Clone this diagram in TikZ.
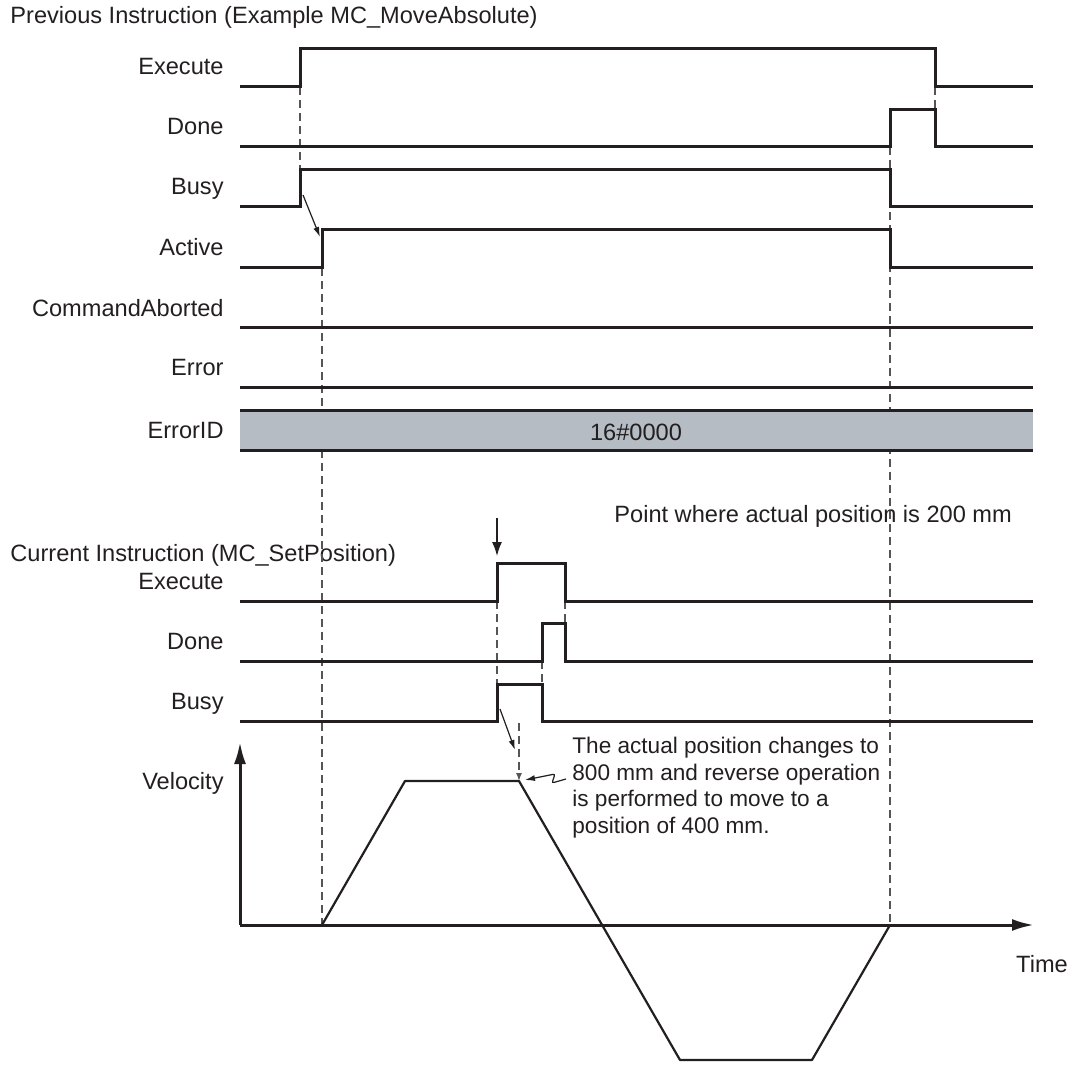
\documentclass[tikz,border=0pt]{standalone}
\usepackage{fontspec}
\setmainfont{Liberation Sans}
\usetikzlibrary{arrows.meta,positioning}
\definecolor{sigblack}{RGB}{35,31,32}
\definecolor{idgray}{RGB}{181,188,195}
\definecolor{guidegray}{RGB}{85,85,85}
\tikzset{
  sig/.style={line width=1.5pt,draw=sigblack},
  vel/.style={line width=1.1pt,draw=sigblack},
  guide/.style={line width=0.7pt,draw=guidegray,dash pattern=on 4pt off 2.5pt},
  lbl/.style={anchor=base east,inner sep=0pt,text=sigblack,font=\fontsize{11.8}{14}\selectfont},
  note/.style={anchor=base west,inner sep=0pt,text=sigblack,font=\fontsize{11.8}{14}\selectfont},
  pointer/.style={-{Latex[length=5pt,width=3pt]},line width=0.6pt,draw=sigblack},
  axis/.style={-{Latex[length=11pt,width=6pt]},line width=1.5pt,draw=sigblack}
}

\begin{document}
\begin{tikzpicture}[x=0.5pt,y=-0.5pt]
  \useasboundingbox (0,0) rectangle (1073,1070);

  % titles
  \node[note] (prevtitle) at (10,24) {Previous Instruction (Example MC\_MoveAbsolute)};
  \node[note] (curtitle) at (10,561) {Current Instruction (MC\_SetPosition)};
  \node[note] (pointtext) at (614,523) {Point where actual position is 200 mm};

  % signal names
  \foreach \y/\t [count=\i] in {75/Execute,135/Done,195/Busy,256/Active,316/CommandAborted,376/Error,438/ErrorID}
    \node[lbl] (prev\i) at (224,\y) {\t};
  \foreach \y/\t [count=\i] in {589/Execute,649/Done,709/Busy,789/Velocity}
    \node[lbl] (cur\i) at (224,\y) {\t};

  % guide lines
  \draw[guide] (300,87) -- (300,170);
  \draw[guide] (322,268) -- (322,925);
  \draw[guide] (890,147) -- (890,925);
  \draw[guide] (935,87) -- (935,110);
  \draw[guide] (497,601) -- (497,684);
  \draw[guide] (565,601) -- (565,623);
  \draw[guide] (542,661) -- (542,684);

  % previous instruction
  \draw[sig] (240,87) -- (300,87) -- (300,49) -- (935,49) -- (935,87) -- (1033,87);
  \draw[sig] (240,147) -- (890,147) -- (890,110) -- (935,110) -- (935,147) -- (1033,147);
  \draw[sig] (240,207) -- (300,207) -- (300,170) -- (890,170) -- (890,207) -- (1033,207);
  \draw[sig] (240,268) -- (322,268) -- (322,230) -- (890,230) -- (890,268) -- (1033,268);
  \foreach \y in {328,388}
    \draw[sig] (240,\y) -- (1033,\y);
  \fill[idgray] (240,411) rectangle (1033,450);
  \draw[sig] (240,411) -- (1033,411) (240,450) -- (1033,450);
  \node[anchor=base,inner sep=0pt,text=sigblack,font=\fontsize{11.8}{14}\selectfont] (errid) at (636,440) {16\#0000};

  % current instruction
  \draw[sig] (240,601) -- (497,601) -- (497,563) -- (565,563) -- (565,601) -- (1033,601);
  \draw[sig] (240,661) -- (542,661) -- (542,623) -- (565,623) -- (565,661) -- (1033,661);
  \draw[sig] (240,721) -- (497,721) -- (497,684) -- (542,684) -- (542,721) -- (1033,721);

  % pointers
  \coordinate (busyrise) at (303,195);
  \coordinate (activerise) at (320,237);
  \draw[pointer] (busyrise) -- (activerise);
  \coordinate (pointtop) at (497,518);
  \coordinate (exerise) at (497,556);
  \draw[-{Latex[length=7pt,width=5pt]},line width=0.7pt,draw=sigblack] (pointtop) -- (exerise);
  \coordinate (busyhigh) at (500,709);
  \coordinate (busytip) at (515,750);
  \draw[pointer] (busyhigh) -- (busytip);
  \coordinate (reversetop) at (519,723);
  \coordinate (reverse) at (519,781);
  \draw[guide,-{Latex[length=4pt,width=3pt]}] (reversetop) -- (reverse);
  \coordinate (noteleft) at (566,779);
  \coordinate (plateautip) at (525,780);
  \draw[pointer,rounded corners=1pt] (noteleft) -- (552,783) -- (555,774) -- (plateautip);

  % velocity
  \coordinate (origin) at (240,925);
  \coordinate (vtop) at (240,742);
  \coordinate (tend) at (1034,925);
  \draw[axis] (origin) -- (vtop);
  \draw[axis] (origin) -- (tend);
  \node[anchor=base,inner sep=0pt,text=sigblack,font=\fontsize{11.8}{14}\selectfont] (timelbl) at (1042,972) {Time};
  \draw[vel,line join=round] (322,925) -- (405,781) -- (519,781) -- (680,1060) -- (812,1060) -- (890,925);

  \node[anchor=north west,inner sep=0pt,align=left,text=sigblack,font=\fontsize{11.3}{13.3}\selectfont] (note) at (572,737)
    {The actual position changes to\\800 mm and reverse operation\\is performed to move to a\\position of 400 mm.};
\end{tikzpicture}
\end{document}
